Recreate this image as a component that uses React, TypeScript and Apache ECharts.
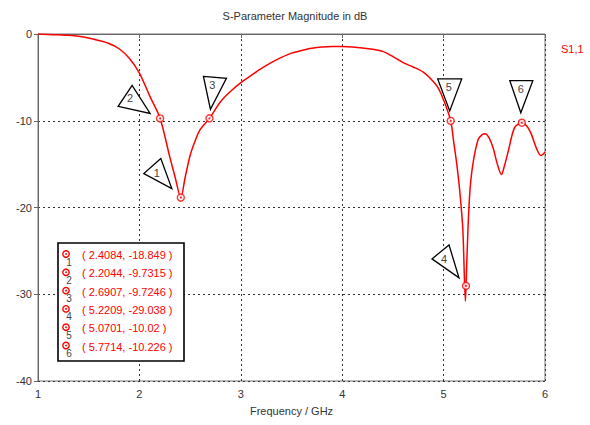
import React, { useEffect, useRef } from "react";
import * as echarts from "echarts";

// S11 magnitude trace (frequency in GHz, magnitude in dB)
const freq = [
  1.0, 1.1, 1.2, 1.3, 1.4, 1.5, 1.6, 1.7, 1.8, 1.9, 2.0, 2.1, 2.2044, 2.3, 2.35,
  2.4084, 2.45, 2.5, 2.55, 2.6, 2.6907, 2.8, 2.9, 3.0, 3.1, 3.2, 3.3, 3.4, 3.5,
  3.6, 3.7, 3.8, 3.9, 4.0, 4.1, 4.2, 4.3, 4.4, 4.5, 4.6, 4.7, 4.8, 4.9, 4.95, 5.0,
  5.0701, 5.1, 5.13, 5.16, 5.19, 5.215, 5.2209, 5.24, 5.26, 5.29, 5.34, 5.38,
  5.41, 5.45, 5.49, 5.53, 5.57, 5.6, 5.64, 5.7, 5.7714, 5.82, 5.86, 5.92, 5.96, 6.0,
];
const s11 = [
  0, -0.05, -0.1, -0.15, -0.25, -0.45, -0.75, -1.1, -1.7, -2.8, -4.5, -7.1,
  -9.7315, -14.2, -16.4, -18.849, -16.6, -14.0, -12.3, -11.0, -9.7246, -7.8,
  -6.6, -5.6, -4.8, -4.0, -3.3, -2.7, -2.2, -1.9, -1.65, -1.5, -1.45, -1.45,
  -1.5, -1.6, -1.75, -2.0, -2.6, -3.3, -3.8, -4.4, -5.5, -6.3, -7.6, -10.02,
  -12.5, -15.0, -18.2, -22.6, -30.8, -29.038, -22.6, -18.0, -14.9, -12.2, -11.6,
  -11.5, -12.0, -13.2, -15.0, -16.2, -15.2, -13.4, -10.8, -10.226, -10.6, -11.4,
  -13.3, -14.0, -13.6,
];

// Marker readouts
const markerFreq = [2.4084, 2.2044, 2.6907, 5.2209, 5.0701, 5.7714];
const markerDb = [-18.849, -9.7315, -9.7246, -29.038, -10.02, -10.226];

// Axis ticks
const xTicks = [1, 2, 3, 4, 5, 6];
const yTicks = [-40, -30, -20, -10, 0];

// Marker flag shapes: triangle vertices and label position, offset from the marker (px)
const flagShapes: { pts: number[][]; label: number[] }[] = [
  { pts: [[-20, -39], [-37, -24], [-9, -9]], label: [-24, -25] },
  { pts: [[-28, -33], [-42, -12], [-10, -5]], label: [-30, -20] },
  { pts: [[-6, -42], [17, -40], [1, -9]], label: [3, -33] },
  { pts: [[-17, -41], [-34, -27], [-7, -8]], label: [-22, -27] },
  { pts: [[-13, -42], [11, -42], [-1, -10]], label: [-2, -34] },
  { pts: [[-12, -42], [11, -42], [-1, -10]], label: [-1, -34] },
];

const FONT = "Liberation Sans, Arial, sans-serif";
const RED = "#ff0000";

export default function App() {
  const ref = useRef<HTMLDivElement>(null);

  useEffect(() => {
    if (!ref.current) return;
    const chart = echarts.init(ref.current, undefined, { renderer: "svg" });

    const curve = freq.map((f, i) => [f, s11[i]]);
    const markers = markerFreq.map((f, i) => [f, markerDb[i]]);

    // Marker table box
    const boxX = 58;
    const boxY = 243;
    const rowH = 18.3;
    const tableChildren: any[] = [
      {
        type: "rect",
        z: 100,
        shape: { x: boxX, y: boxY, width: 126, height: 118 },
        style: { fill: "#fff", stroke: "#000", lineWidth: 1.6 },
      },
    ];
    markers.forEach((m, i) => {
      const cy = boxY + 11 + i * rowH;
      tableChildren.push(
        {
          type: "circle",
          z: 101,
          shape: { cx: 66, cy, r: 3.2 },
          style: { fill: "#fff", stroke: RED, lineWidth: 1.4 },
        },
        {
          type: "circle",
          z: 102,
          shape: { cx: 66, cy, r: 0.9 },
          style: { fill: RED },
        },
        {
          type: "text",
          z: 101,
          style: {
            text: String(i + 1),
            x: 69,
            y: cy + 8,
            textAlign: "center",
            textVerticalAlign: "middle",
            fill: "#444",
            font: `10px ${FONT}`,
          },
        },
        {
          type: "text",
          z: 101,
          style: {
            text: `( ${m[0]}, ${m[1]} )`,
            x: 82,
            y: cy + 1,
            textAlign: "left",
            textVerticalAlign: "middle",
            fill: RED,
            font: `11px ${FONT}`,
          },
        }
      );
    });

    chart.setOption({
      animation: false,
      backgroundColor: "#fff",
      title: {
        text: "S-Parameter Magnitude in dB",
        left: "center",
        top: 5,
        textStyle: { fontFamily: FONT, fontSize: 11, fontWeight: "normal", color: "#333" },
      },
      legend: {
        data: [{ name: "S1,1", icon: "none" }],
        left: 551,
        top: 37,
        itemWidth: 0,
        itemGap: 0,
        textStyle: { fontFamily: FONT, fontSize: 11, color: RED },
      },
      grid: {
        left: 38,
        right: 45,
        top: 34,
        bottom: 44,
        show: true,
        borderColor: "#777",
        borderWidth: 1,
      },
      xAxis: {
        type: "value",
        min: xTicks[0],
        max: xTicks[xTicks.length - 1],
        interval: 1,
        name: "Frequency / GHz",
        nameLocation: "middle",
        nameGap: 24,
        nameTextStyle: { fontFamily: FONT, fontSize: 11, color: "#333" },
        axisLine: { lineStyle: { color: "#666" } },
        axisTick: { show: true, length: 4, lineStyle: { color: "#666" } },
        axisLabel: { fontFamily: FONT, fontSize: 11, color: "#333", margin: 7 },
        splitLine: { lineStyle: { color: "#333", type: [2, 3] } },
      },
      yAxis: {
        type: "value",
        min: yTicks[0],
        max: yTicks[yTicks.length - 1],
        interval: 10,
        axisLine: { show: true, lineStyle: { color: "#666" } },
        axisTick: { show: true, length: 4, lineStyle: { color: "#666" } },
        axisLabel: { fontFamily: FONT, fontSize: 11, color: "#333", margin: 6 },
        splitLine: { lineStyle: { color: "#333", type: [2, 3] } },
      },
      series: [
        {
          name: "S1,1",
          type: "line",
          data: curve,
          showSymbol: false,
          smooth: 0.3,
          lineStyle: { color: RED, width: 1.5 },
          itemStyle: { color: RED },
          z: 3,
        },
        {
          type: "scatter",
          data: markers,
          symbol: "circle",
          symbolSize: 7,
          itemStyle: { color: "#fff", borderColor: RED, borderWidth: 1.4 },
          z: 4,
        },
        {
          type: "scatter",
          data: markers,
          symbol: "circle",
          symbolSize: 2,
          itemStyle: { color: RED },
          z: 5,
        },
        {
          type: "custom",
          data: markers,
          z: 2,
          renderItem: (params: any, api: any) => {
            const p = api.coord([api.value(0), api.value(1)]);
            const shape = flagShapes[params.dataIndex];
            return {
              type: "group",
              children: [
                {
                  type: "polygon",
                  shape: { points: shape.pts.map(([dx, dy]) => [p[0] + dx, p[1] + dy]) },
                  style: { fill: "#fff", stroke: "#000", lineWidth: 1.3 },
                },
                {
                  type: "text",
                  style: {
                    text: String(params.dataIndex + 1),
                    x: p[0] + shape.label[0],
                    y: p[1] + shape.label[1],
                    textAlign: "center",
                    textVerticalAlign: "middle",
                    fill: "#444",
                    font: `11px ${FONT}`,
                  },
                },
              ],
            };
          },
        },
      ],
      graphic: [{ type: "group", children: tableChildren, z: 100 }],
    });

    return () => chart.dispose();
  }, []);

  return (
    <div
      ref={ref}
      style={{ position: "fixed", left: 0, top: 0, width: 590, height: 425 }}
    />
  );
}
